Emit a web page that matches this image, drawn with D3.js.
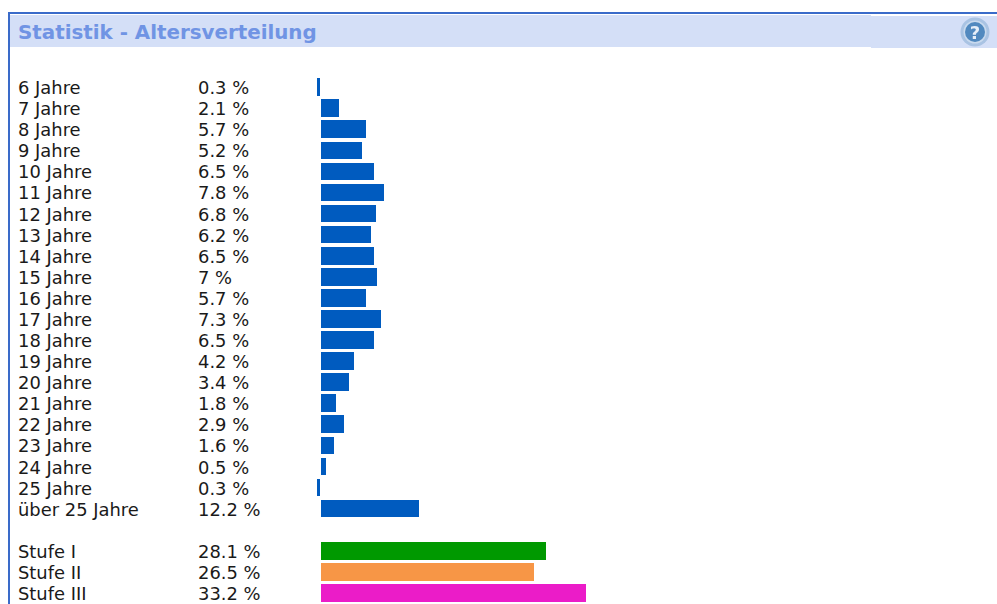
<!DOCTYPE html>
<html>
<head>
<meta charset="utf-8">
<script src="https://cdn.jsdelivr.net/npm/d3@7"></script>
<style>
	html, body { margin: 0; padding: 0; background: #fff; }
	svg { display: block; }
	text { font-family: "DejaVu Sans", sans-serif; font-size: 17.9px; fill: #1a1a1a; }
</style>
</head>
<body>
<svg id="chart"></svg>
<script>
var chartTitle = "Statistik - Altersverteilung";
var ageLabels = ["6 Jahre","7 Jahre","8 Jahre","9 Jahre","10 Jahre","11 Jahre","12 Jahre","13 Jahre","14 Jahre","15 Jahre","16 Jahre","17 Jahre","18 Jahre","19 Jahre","20 Jahre","21 Jahre","22 Jahre","23 Jahre","24 Jahre","25 Jahre","über 25 Jahre"];
var ageValues = [0.3,2.1,5.7,5.2,6.5,7.8,6.8,6.2,6.5,7,5.7,7.3,6.5,4.2,3.4,1.8,2.9,1.6,0.5,0.3,12.2];
// bar lengths, they differ a little from the printed percentages
var ageBarValues = [0.4,2.25,5.63,5.13,6.63,7.88,6.88,6.25,6.63,7,5.63,7.5,6.63,4.13,3.5,1.88,2.88,1.63,0.63,0.4,12.25];
var levelLabels = ["Stufe I","Stufe II","Stufe III"];
var levelValues = [28.1,26.5,33.2];
var levelBarValues = [28.13,26.63,33.13];
var levelColors = ["#009900","#f79646","#eb1cc8"];
var ageColor = "#005bbf";

var width = 997, height = 604;
var svg = d3.select("#chart").attr("width", width).attr("height", height);

// panel header
svg.append("rect").attr("x", 8).attr("y", 12).attr("width", width - 8).attr("height", 2).attr("fill", "#3a6bc9");
svg.append("rect").attr("x", 8).attr("y", 12).attr("width", 2).attr("height", height - 12).attr("fill", "#3a6bc9");
svg.append("rect").attr("x", 10).attr("y", 15).attr("width", 861).attr("height", 32).attr("fill", "#d4dff7");
svg.append("rect").attr("x", 871).attr("y", 16).attr("width", 126).attr("height", 32).attr("fill", "#d4dff7");
svg.append("text").attr("x", 18).attr("y", 39)
	.style("font-size", "19.85px").style("font-weight", "bold").style("fill", "#7094e4")
	.text(chartTitle);

// help icon
var blur = svg.append("defs").append("filter").attr("id", "iconBlur");
blur.append("feGaussianBlur").attr("stdDeviation", 0.7);
var icon = svg.append("g").attr("transform", "translate(975,32)").attr("filter", "url(#iconBlur)");
icon.append("circle").attr("r", 14.5).attr("fill", "#a9c3e3");
icon.append("circle").attr("r", 11.5).attr("fill", "#c9daee");
icon.append("circle").attr("r", 10).attr("fill", "#5189bf");
icon.append("text").attr("y", 6.5).attr("text-anchor", "middle")
	.style("font-size", "18px").style("font-weight", "bold").style("fill", "#e6eef8").text("?");

// one row grid, with an empty row between the two blocks
var rows = ageLabels.concat([""]).concat(levelLabels);
var yScale = d3.scalePoint().domain(rows).range([78.35, 78.35 + 21.07 * (rows.length - 1)]);
// the text rows step slightly differently from the bars
var textScale = d3.scalePoint().domain(rows).range([94.08, 94.08 + 21.08 * (rows.length - 1)]);
var xScale = d3.scaleLinear().domain([0, 1]).range([321, 329]);
var barHeight = 17.65;

var records = ageLabels.map(function(d, i) { return { label: d, value: ageValues[i], bar: ageBarValues[i], color: ageColor }; })
	.concat(levelLabels.map(function(d, i) { return { label: d, value: levelValues[i], bar: levelBarValues[i], color: levelColors[i] }; }));

var row = svg.selectAll(".row").data(records).enter().append("g").attr("class", "row");

row.append("text").attr("x", 18)
	.attr("y", function(d) { return Math.round(textScale(d.label)); })
	.text(function(d) { return d.label; });
row.append("text").attr("x", 198)
	.attr("y", function(d) { return Math.round(textScale(d.label)); })
	.text(function(d) { return d.value + " %"; });

row.append("rect")
	// the smallest bars sit left of the others in the original
	.attr("x", function(d) { return d.bar < 0.5 ? xScale(0) - 4 : xScale(0); })
	.attr("y", function(d) { return Math.round(yScale(d.label)); })
	.attr("width", function(d) { return Math.round(xScale(d.bar) - xScale(0)); })
	.attr("height", function(d) { return Math.round(yScale(d.label) + barHeight) - Math.round(yScale(d.label)); })
	.attr("fill", function(d) { return d.color; });
</script>
</body>
</html>
